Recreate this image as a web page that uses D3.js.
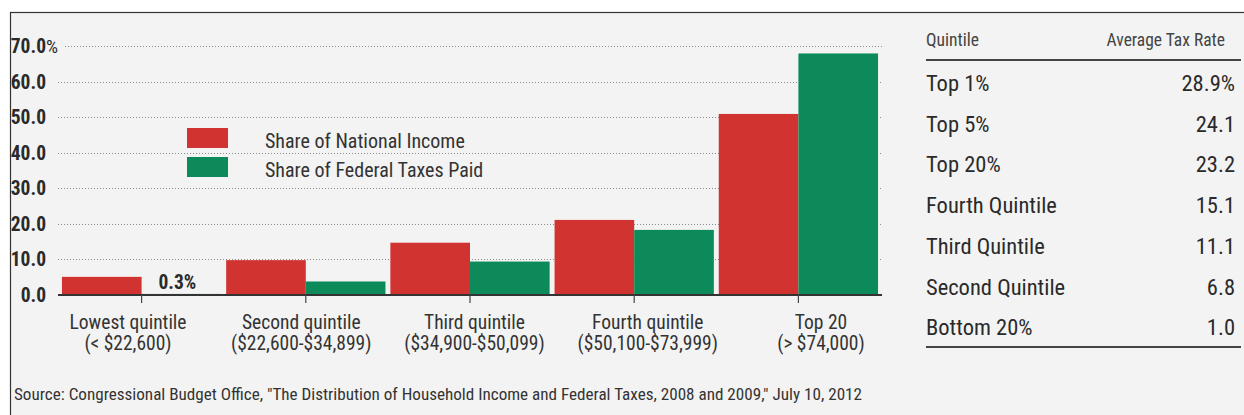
<!DOCTYPE html>
<html><head><meta charset="utf-8">
<script src="https://cdn.jsdelivr.net/npm/d3@7"></script>
<style>
body{margin:0;background:#fff}
svg{display:block}
text{font-family:"Liberation Sans Narrow","Roboto Condensed","Open Sans Condensed",Roboto,sans-serif}
</style>
</head><body><svg id="c" width="1244" height="415"></svg>
<script>
const categories = ["Lowest quintile","Second quintile","Third quintile","Fourth quintile","Top 20"];
const incomeRanges = ["(< $22,600)","($22,600-$34,899)","($34,900-$50,099)","($50,100-$73,999)","(> $74,000)"];
const seriesNames = ["Share of National Income","Share of Federal Taxes Paid"];
const incomeShare = [5.1, 9.8, 14.7, 21.1, 50.9];
const taxShare = [0.3, 3.8, 9.4, 18.3, 67.9];
const yTicks = [0,10,20,30,40,50,60,70];
const tableQuintiles = ["Top 1%","Top 5%","Top 20%","Fourth Quintile","Third Quintile","Second Quintile","Bottom 20%"];
const tableRates = [28.9,24.1,23.2,15.1,11.1,6.8,1.0];
const sourceText = 'Source: Congressional Budget Office, "The Distribution of Household Income and Federal Taxes, 2008 and 2009," July 10, 2012';

const colors = {"Share of National Income":"#d13330","Share of Federal Taxes Paid":"#0d8a5a"};
const svg = d3.select("#c");

// frame
svg.append("rect").attr("x",10.5).attr("y",12.5).attr("width",1250).attr("height",420)
  .attr("fill","#f3f3f3").attr("stroke","#333").attr("stroke-width",1.2);

const x = d3.scaleBand().domain(categories).range([59.5,880.5]).paddingInner(0.03).paddingOuter(0.015);
const xs = d3.scaleBand().domain(seriesNames).range([0,x.bandwidth()]);
const y = d3.scaleLinear().domain([0,70]).range([295,46]);
const xl = d3.scalePoint().domain(categories).range([128,821]);

// gridlines
svg.append("g").selectAll("line").data(yTicks.filter(d=>d>0)).join("line")
  .attr("x1",d=>d===70?65:58).attr("x2",882)
  .attr("y1",d=>Math.round(y(d))+0.5).attr("y2",d=>Math.round(y(d))+0.5)
  .attr("stroke","#8a8a8a").attr("stroke-width",1).attr("stroke-dasharray","1,2");

// y labels
const yl = svg.append("g");
yl.selectAll("text").data(yTicks).join("text")
  .attr("x",46).attr("y",d=>y(d)+7).attr("text-anchor","end")
  .attr("font-size",19.5).attr("font-weight","bold").attr("fill","#2a2a2a")
  .text(d=>d3.format(".1f")(d));
yl.append("text").attr("x",46).attr("y",y(70)+7).attr("font-size",19).attr("fill","#2a2a2a").text("%");

// bars
const data = categories.map((c,i)=>({cat:c, vals:[{s:seriesNames[0],v:incomeShare[i]},{s:seriesNames[1],v:taxShare[i]}]}));
const g = svg.append("g").selectAll("g").data(data).join("g").attr("transform",d=>`translate(${x(d.cat)},0)`);
g.selectAll("rect").data(d=>d.vals).join("rect")
  .attr("x",d=>xs(d.s)).attr("width",xs.bandwidth())
  .attr("y",d=>y(d.v)).attr("height",d=>y(0)-y(d.v))
  .attr("fill",d=>colors[d.s]);

// baseline
svg.append("line").attr("x1",58).attr("x2",882).attr("y1",295).attr("y2",295).attr("stroke","#333").attr("stroke-width",2);
// ticks
svg.append("g").selectAll("line").data(categories).join("line")
  .attr("x1",d=>x(d)+x.bandwidth()/2).attr("x2",d=>x(d)+x.bandwidth()/2)
  .attr("y1",295).attr("y2",303).attr("stroke","#444").attr("stroke-width",1.2);

// 0.3% label
svg.append("text").attr("x",x(categories[0])+xs(seriesNames[1])+xs.bandwidth()/2-4).attr("y",y(taxShare[0])-5)
  .attr("text-anchor","middle").attr("font-size",19.5).attr("font-weight","bold").attr("fill","#2a2a2a")
  .text(d3.format(".1f")(taxShare[0])+"%");

// category labels
const cl = svg.append("g").selectAll("text").data(categories).join("text")
  .attr("text-anchor","middle").attr("font-size",19.5).attr("fill","#333");
cl.append("tspan").attr("x",d=>xl(d)).attr("y",329).text(d=>d);
cl.append("tspan").attr("x",d=>xl(d)).attr("y",350).text((d,i)=>incomeRanges[i]);

// legend
const lg = svg.append("g").selectAll("g").data(seriesNames).join("g")
  .attr("transform",(d,i)=>`translate(187,${128+i*29})`);
lg.append("rect").attr("width",41).attr("height",20).attr("fill",d=>colors[d]);
lg.append("text").attr("x",78).attr("y",20).attr("font-size",20).attr("fill","#333").text(d=>d);

// table
const t = svg.append("g");
t.append("text").attr("x",926).attr("y",46).attr("font-size",17.5).attr("fill","#444").text("Quintile");
t.append("text").attr("x",1225).attr("y",46).attr("text-anchor","end").attr("font-size",17.5).attr("fill","#444").text("Average Tax Rate");
t.append("line").attr("x1",926).attr("x2",1241).attr("y1",60).attr("y2",60).attr("stroke","#444").attr("stroke-width",2);
const rows = t.selectAll("g.row").data(tableQuintiles).join("g").attr("class","row")
  .attr("transform",(d,i)=>`translate(0,${91+i*40.7})`);
rows.append("text").attr("x",926).attr("font-size",22.5).attr("fill","#2a2a2a").text(d=>d);
rows.append("text").attr("x",1235).attr("text-anchor","end").attr("font-size",22.5).attr("fill","#2a2a2a")
  .text((d,i)=>d3.format(".1f")(tableRates[i])+(i===0?"%":""));
t.append("line").attr("x1",926).attr("x2",1241).attr("y1",347).attr("y2",347).attr("stroke","#444").attr("stroke-width",2);

// source
svg.append("text").attr("x",14).attr("y",400).attr("font-size",16.5).attr("fill","#333")
  .attr("textLength",848).attr("lengthAdjust","spacingAndGlyphs").text(sourceText);
</script>
</body></html>
